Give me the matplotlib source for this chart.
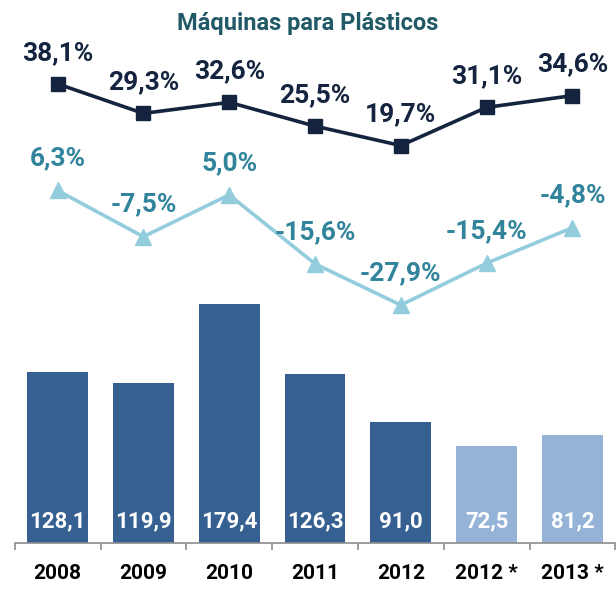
import matplotlib
matplotlib.use('Agg')
import matplotlib.pyplot as plt
import numpy as np

plt.rcParams['font.family'] = ['Roboto', 'DejaVu Sans']

years = ['2008', '2009', '2010', '2011', '2012', '2012 *', '2013 *']
sales = [128.1, 119.9, 179.4, 126.3, 91.0, 72.5, 81.2]
share = [38.1, 29.3, 32.6, 25.5, 19.7, 31.1, 34.6]
growth = [6.3, -7.5, 5.0, -15.6, -27.9, -15.4, -4.8]
forecast = [False, False, False, False, False, True, True]


def fmt(v, pct=False):
    s = ('%.1f' % v).replace('.', ',')
    return s + '%' if pct else s


W, H = 616, 591
fig = plt.figure(figsize=(W / 100, H / 100), dpi=100)
ax = fig.add_axes([14.7 / W, 48 / H, 600.6 / W, 503 / H])
x = np.arange(len(years))

colors = ['#95b3d7' if f else '#366092' for f in forecast]
ax.bar(x, sales, width=0.71, color=colors, zorder=2)
for xi, v in zip(x, sales):
    ax.annotate(fmt(v), (xi, 0), xytext=(0, 16 * 0.72), textcoords='offset points',
                ha='center', va='baseline', color='white',
                fontsize=16, fontweight='bold')

ax.set_xlim(-0.5, len(years) - 0.5)
ax.set_ylim(0, 376.8)
ax.set_yticks([])
for s in ['top', 'right', 'left']:
    ax.spines[s].set_visible(False)
ax.spines['bottom'].set_color('#8c8c8c')
ax.spines['bottom'].set_linewidth(1.2)
ax.set_xticks(x)
ax.set_xticklabels(years, fontsize=15, fontweight='bold')
ax.tick_params(axis='x', which='major', length=0, pad=15)
ax.set_xticks(np.arange(-0.5, len(years)), minor=True)
ax.tick_params(axis='x', which='minor', length=5, color='#8c8c8c', width=1.2)

ax2 = ax.twinx()
ax2.set_ylim(-98.9, 51.2)
ax2.axis('off')
ax2.plot(x, share, color='#14243f', lw=2.6, marker='s', markersize=10, zorder=3)
ax2.plot(x, growth, color='#93cddd', lw=2.6, marker='^', markersize=11, zorder=3)

for xi, v in zip(x, share):
    ax2.annotate(fmt(v, True), (xi, v), xytext=(0, 24 * 0.72),
                 textcoords='offset points', ha='center', va='baseline',
                 color='#14243f', fontsize=19, fontweight='bold')
for xi, v in zip(x, growth):
    ax2.annotate(fmt(v, True), (xi, v), xytext=(0, 25 * 0.72),
                 textcoords='offset points', ha='center', va='baseline',
                 color='#31849b', fontsize=19, fontweight='bold')

fig.text(0.5, 1 - 30 / H, 'Máquinas para Plásticos', ha='center', va='baseline',
         color='#215967', fontsize=17, fontweight='bold')

fig.savefig('out.png', dpi=100)
